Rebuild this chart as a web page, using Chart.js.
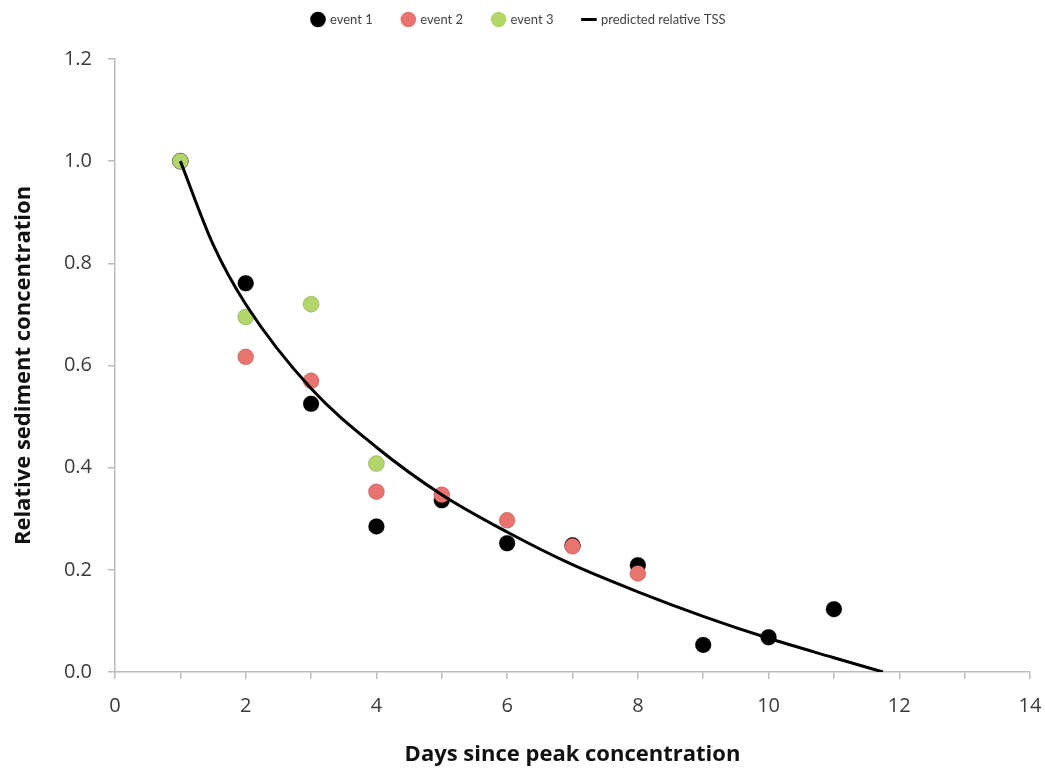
<!DOCTYPE html>
<html>
<head>
<meta charset="utf-8">
<script src="https://cdn.jsdelivr.net/npm/chart.js@4/dist/chart.umd.min.js"></script>
<style>
  html, body { margin: 0; padding: 0; background: #fff; }
  #wrap { width: 1045px; height: 772px; }
</style>
</head>
<body>
<div id="wrap"><canvas id="c" width="1045" height="772"></canvas></div>
<script>
// Days after the concentration peak, one observation per day
const event1Days = [1, 2, 3, 4, 5, 6, 7, 8, 9, 10, 11];
const event1Values = [1.0, 0.761, 0.525, 0.285, 0.336, 0.252, 0.248, 0.209, 0.053, 0.068, 0.123];

const event2Days = [1, 2, 3, 4, 5, 6, 7, 8];
const event2Values = [1.0, 0.617, 0.570, 0.353, 0.347, 0.297, 0.246, 0.193];

const event3Days = [1, 2, 3, 4];
const event3Values = [1.0, 0.695, 0.720, 0.408];

// Predicted relative TSS decay curve
const predictedDays = [1, 1.5, 2, 3, 4, 5, 6, 7, 8, 9, 10, 11, 11.75];
const predictedValues = [1.0, 0.837, 0.72, 0.555, 0.44, 0.347, 0.274, 0.21, 0.157, 0.109, 0.066, 0.028, 0.0];

const xTicks = [0, 2, 4, 6, 8, 10, 12, 14];

const toPoints = (xs, ys) => xs.map((x, i) => ({ x: x, y: ys[i] }));

const FONT = "'Open Sans', Lato, 'DejaVu Sans', sans-serif";
const LEGEND_FONT = "Lato, 'Open Sans', sans-serif";

const scatterStyle = (color) => ({
  type: 'scatter',
  backgroundColor: color,
  borderColor: 'rgba(0,0,0,0.18)',
  borderWidth: 1,
  pointRadius: 8,
  pointHoverRadius: 8,
  pointStyle: 'circle'
});

new Chart(document.getElementById('c'), {
  data: {
    datasets: [
      Object.assign({ label: 'event 1', data: toPoints(event1Days, event1Values), order: 3 }, scatterStyle('#000000')),
      Object.assign({ label: 'event 2', data: toPoints(event2Days, event2Values), order: 2 }, scatterStyle('#e9736f')),
      Object.assign({ label: 'event 3', data: toPoints(event3Days, event3Values), order: 1 }, scatterStyle('#b3d66b')),
      {
        type: 'line',
        label: 'predicted relative TSS',
        data: toPoints(predictedDays, predictedValues),
        borderColor: '#000',
        backgroundColor: '#000',
        borderWidth: 3,
        pointRadius: 0,
        pointStyle: 'line',
        cubicInterpolationMode: 'monotone',
        fill: false,
        order: 0
      }
    ]
  },
  options: {
    responsive: false,
    animation: false,
    layout: { padding: { left: 8, right: 15, top: -17, bottom: 4 } },
    plugins: {
      tooltip: { enabled: false },
      legend: {
        position: 'top',
        align: 'center',
        labels: {
          usePointStyle: true,
          boxWidth: 11,
          boxHeight: 11,
          padding: 30,
          color: '#444',
          font: { family: LEGEND_FONT, size: 13 },
          sort: (a, b) => a.datasetIndex - b.datasetIndex,
          generateLabels(chart) {
            const items = Chart.defaults.plugins.legend.labels.generateLabels(chart);
            items.forEach((it) => {
              const ds = chart.data.datasets[it.datasetIndex];
              if (ds.type === 'line') {
                it.pointStyle = 'line';
                it.lineWidth = 3;
                it.strokeStyle = '#000';
              } else {
                it.pointStyle = 'circle';
                it.lineWidth = 0;
                it.fillStyle = ds.backgroundColor;
                it.strokeStyle = ds.backgroundColor;
              }
            });
            return items;
          }
        }
      }
    },
    scales: {
      x: {
        type: 'linear',
        min: 0,
        max: 14,
        afterBuildTicks(scale) {
          const t = [];
          for (let v = 0; v <= 14; v++) t.push({ value: v });
          scale.ticks = t;
        },
        afterFit(scale) {
          scale.height = 96;
          scale.paddingLeft = 0;
          scale.paddingRight = 0;
        },
        grid: {
          display: true,
          drawOnChartArea: false,
          drawTicks: true,
          tickLength: 7,
          color: '#bbb',
          lineWidth: 1.5
        },
        border: { display: true, color: '#bbb', width: 1.5 },
        ticks: {
          padding: 15,
          color: '#3a3a3a',
          font: { family: FONT, size: 20 },
          maxRotation: 0,
          autoSkip: false,
          callback: (v) => (xTicks.includes(v) ? String(v) : '')
        },
        title: {
          display: true,
          text: 'Days since peak concentration',
          color: '#111',
          font: { family: FONT, size: 22, weight: 'bold' },
          padding: { top: 10, bottom: 0 }
        }
      },
      y: {
        type: 'linear',
        min: 0,
        max: 1.2,
        afterFit(scale) { scale.width = 107; },
        grid: {
          display: true,
          drawOnChartArea: false,
          drawTicks: true,
          tickLength: 7,
          color: '#bbb',
          lineWidth: 1.5
        },
        border: { display: true, color: '#bbb', width: 1.5 },
        ticks: {
          stepSize: 0.2,
          padding: 16,
          color: '#3a3a3a',
          font: { family: FONT, size: 20 },
          callback: (v) => Number(v).toFixed(1)
        },
        title: {
          display: true,
          text: 'Relative sediment concentration',
          color: '#111',
          font: { family: FONT, size: 22, weight: 'bold' },
          padding: { top: 3, bottom: 0 }
        }
      }
    }
  },
  plugins: [{
    id: 'legendGap',
    beforeInit(chart) {
      const fit = chart.legend.fit;
      chart.legend.fit = function () {
        fit.call(this);
        this.height += 23;
      };
    }
  }]
});
</script>
</body>
</html>
